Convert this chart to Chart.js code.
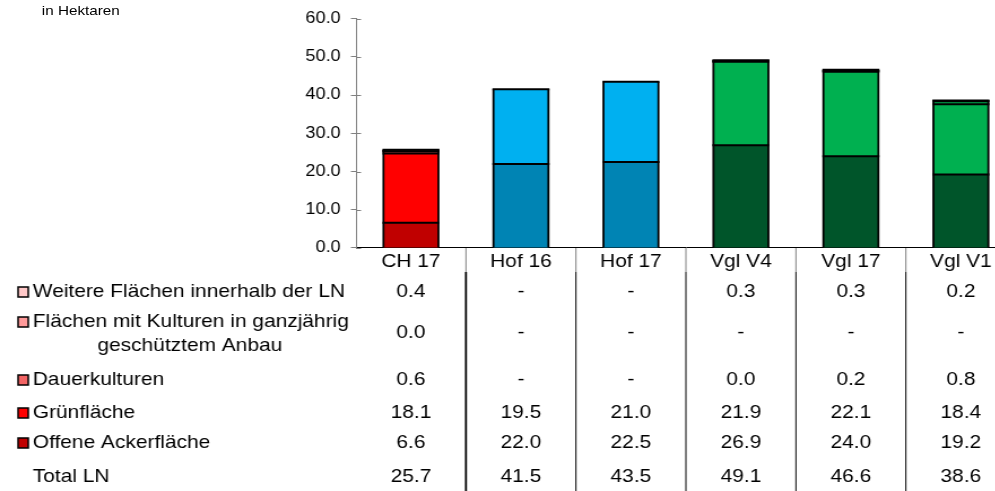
<!DOCTYPE html>
<html>
<head>
<meta charset="utf-8">
<script src="https://cdn.jsdelivr.net/npm/chart.js@4.4.1/dist/chart.umd.min.js"></script>
<style>
  html, body { margin: 0; padding: 0; background: #fff; overflow: hidden; }
  /* Vorlage ist horizontal gestreckt, daher scaleX */
  #wrap { position: relative; width: 899px; height: 491px; transform: scaleX(1.13); transform-origin: 0 0; }
  #note { position: absolute; left: 37px; top: 3px; font: 13.5px "Liberation Sans", Arial, sans-serif; color: #000; }
</style>
</head>
<body>
<div id="wrap">
  <canvas id="chart" width="899" height="491"></canvas>
  <div id="note">in Hektaren</div>
</div>
<script>
// Kategorien und Werte (ha), null = "-"
var categories = ["CH 17", "Hof 16", "Hof 17", "Vgl V4", "Vgl 17", "Vgl V1"];
var offeneAcker = [6.6, 22.0, 22.5, 26.9, 24.0, 19.2];
var gruenflaeche = [18.1, 19.5, 21.0, 21.9, 22.1, 18.4];
var dauerkulturen = [0.6, null, null, 0.0, 0.2, 0.8];
var geschuetzt = [0.0, null, null, null, null, null];
var weitere = [0.4, null, null, 0.3, 0.3, 0.2];
var totalLN = [25.7, 41.5, 43.5, 49.1, 46.6, 38.6];
var yTicks = [0, 10, 20, 30, 40, 50, 60];

// Farben je Gruppe (CH, Hof, Vgl)
var groupOf = ["ch", "hof", "hof", "vgl", "vgl", "vgl"];
var palette = {
  offene: { ch: "#C00000", hof: "#0084B4", vgl: "#00552A" },
  gruen:  { ch: "#FF0000", hof: "#00B0F0", vgl: "#00B050" },
  dauer:  { ch: "#F26464", hof: "#7FD3F7", vgl: "#00B050" },
  gesch:  { ch: "#FF9A9A", hof: "#A8E2FA", vgl: "#6FD39A" },
  weit:   { ch: "#FFC8C8", hof: "#D0F0FC", vgl: "#A8E6C2" }
};
function colors(key) {
  return groupOf.map(function(g) { return palette[key][g]; });
}

// Tabellenzeilen (von oben nach unten)
var rows = [
  { label: ["Weitere Flächen innerhalb der LN"], data: weitere, box: "#FFC8C8", y: 292 },
  { label: ["Flächen mit Kulturen in ganzjährig", "geschütztem Anbau"], data: geschuetzt, box: "#FF9A9A", y: 333 },
  { label: ["Dauerkulturen"], data: dauerkulturen, box: "#F26464", y: 380 },
  { label: ["Grünfläche"], data: gruenflaeche, box: "#FF0000", y: 413 },
  { label: ["Offene Ackerfläche"], data: offeneAcker, box: "#C00000", y: 443 },
  { label: ["Total LN"], data: totalLN, box: null, y: 477 }
];

var FONT = '"Liberation Sans", Arial, sans-serif';

// Rahmen wie in Excel: mittig auf den Segmentkanten
var outlinePlugin = {
  id: "outline",
  afterDatasetsDraw: function(chart) {
    var ctx = chart.ctx;
    ctx.save();
    ctx.strokeStyle = "#000";
    chart.data.datasets.forEach(function(d, di) {
      var meta = chart.getDatasetMeta(di);
      meta.data.forEach(function(el, i) {
        if (d.data[i] === null) return;
        var p = el.getProps(["x", "y", "base", "width"], true);
        var l = p.x - p.width / 2, r = p.x + p.width / 2;
        ctx.lineWidth = 2;
        ctx.beginPath();
        ctx.moveTo(l - 0.9, p.y);
        ctx.lineTo(r + 0.9, p.y);
        ctx.stroke();
        ctx.lineWidth = 1.8;
        ctx.beginPath();
        ctx.moveTo(l, p.y);
        ctx.lineTo(l, p.base);
        ctx.moveTo(r, p.y);
        ctx.lineTo(r, p.base);
        ctx.stroke();
      });
    });
    ctx.restore();
  }
};

var tablePlugin = {
  id: "table",
  afterDraw: function(chart) {
    var ctx = chart.ctx;
    var x = chart.scales.x;
    var y = chart.scales.y;
    var area = chart.chartArea;
    ctx.save();

    // kleine Striche innen an der y-Achse
    ctx.strokeStyle = "#808080";
    ctx.lineWidth = 1;
    yTicks.forEach(function(v) {
      var py = Math.round(y.getPixelForValue(v)) + 0.5;
      ctx.beginPath();
      ctx.moveTo(area.left, py);
      ctx.lineTo(area.left + 4.5, py);
      ctx.stroke();
    });

    // Spaltentrenner
    for (var i = 0; i < categories.length - 1; i++) {
      var bx = (x.getPixelForValue(i) + x.getPixelForValue(i + 1)) / 2;
      ctx.strokeStyle = "#808080";
      ctx.lineWidth = 1;
      ctx.beginPath();
      ctx.moveTo(bx, area.bottom);
      ctx.lineTo(bx, 272);
      ctx.stroke();
      ctx.strokeStyle = "#000";
      ctx.lineWidth = i == 0 ? 1.8 : 1;
      ctx.beginPath();
      ctx.moveTo(bx, 272);
      ctx.lineTo(bx, 491);
      ctx.stroke();
    }

    ctx.font = "18.5px " + FONT;
    ctx.fillStyle = "#000";
    ctx.textBaseline = "middle";

    rows.forEach(function(r) {
      // Legendenkästchen
      if (r.box) {
        var by = r.label.length > 1 ? r.y - 11 : r.y;
        ctx.fillStyle = r.box;
        ctx.fillRect(16, by - 5, 9, 10);
        ctx.strokeStyle = "#000";
        ctx.lineWidth = 1.5;
        ctx.strokeRect(16, by - 5, 9, 10);
      }
      ctx.fillStyle = "#000";
      if (r.label.length > 1) {
        ctx.textAlign = "left";
        ctx.fillText(r.label[0], 29, r.y - 11);
        ctx.textAlign = "center";
        ctx.fillText(r.label[1], 168, r.y + 13);
      } else {
        ctx.textAlign = "left";
        ctx.fillText(r.label[0], 29, r.y);
      }
      // Werte
      ctx.textAlign = "center";
      r.data.forEach(function(v, i) {
        var txt = v === null ? "-" : v.toFixed(1);
        ctx.fillText(txt, x.getPixelForValue(i), r.y);
      });
    });

    ctx.restore();
  }
};

function ds(label, data, key) {
  return {
    label: label,
    data: data,
    backgroundColor: colors(key),
    borderWidth: 0
  };
}

new Chart(document.getElementById("chart"), {
  type: "bar",
  data: {
    labels: categories,
    datasets: [
      ds("Offene Ackerfläche", offeneAcker, "offene"),
      ds("Grünfläche", gruenflaeche, "gruen"),
      ds("Dauerkulturen", dauerkulturen, "dauer"),
      ds("Flächen mit Kulturen in ganzjährig geschütztem Anbau", geschuetzt, "gesch"),
      ds("Weitere Flächen innerhalb der LN", weitere, "weit")
    ]
  },
  options: {
    responsive: false,
    animation: false,
    layout: { padding: { top: 17, left: 0, right: 0, bottom: 0 } },
    plugins: {
      legend: { display: false },
      tooltip: { enabled: false }
    },
    datasets: {
      bar: { categoryPercentage: 1.0, barPercentage: 0.5 }
    },
    scales: {
      x: {
        stacked: true,
        grid: { display: false, drawTicks: false },
        border: { display: true, color: "#000", width: 1 },
        ticks: { color: "#000", font: { family: FONT, size: 18.5 }, padding: 3, maxRotation: 0 },
        afterFit: function(scale) { scale.height = 243; }
      },
      y: {
        stacked: true,
        min: 0,
        max: 60,
        afterBuildTicks: function(scale) {
          scale.ticks = yTicks.map(function(v) { return { value: v }; });
        },
        grid: { drawOnChartArea: false, drawTicks: true, tickLength: 4.5, color: "#808080" },
        border: { display: true, color: "#808080", width: 1 },
        ticks: {
          color: "#000",
          font: { family: FONT, size: 16 },
          padding: 9,
          callback: function(v) { return Number(v).toFixed(1); }
        },
        afterFit: function(scale) { scale.width = 315; }
      }
    }
  },
  plugins: [outlinePlugin, tablePlugin]
});
</script>
</body>
</html>
